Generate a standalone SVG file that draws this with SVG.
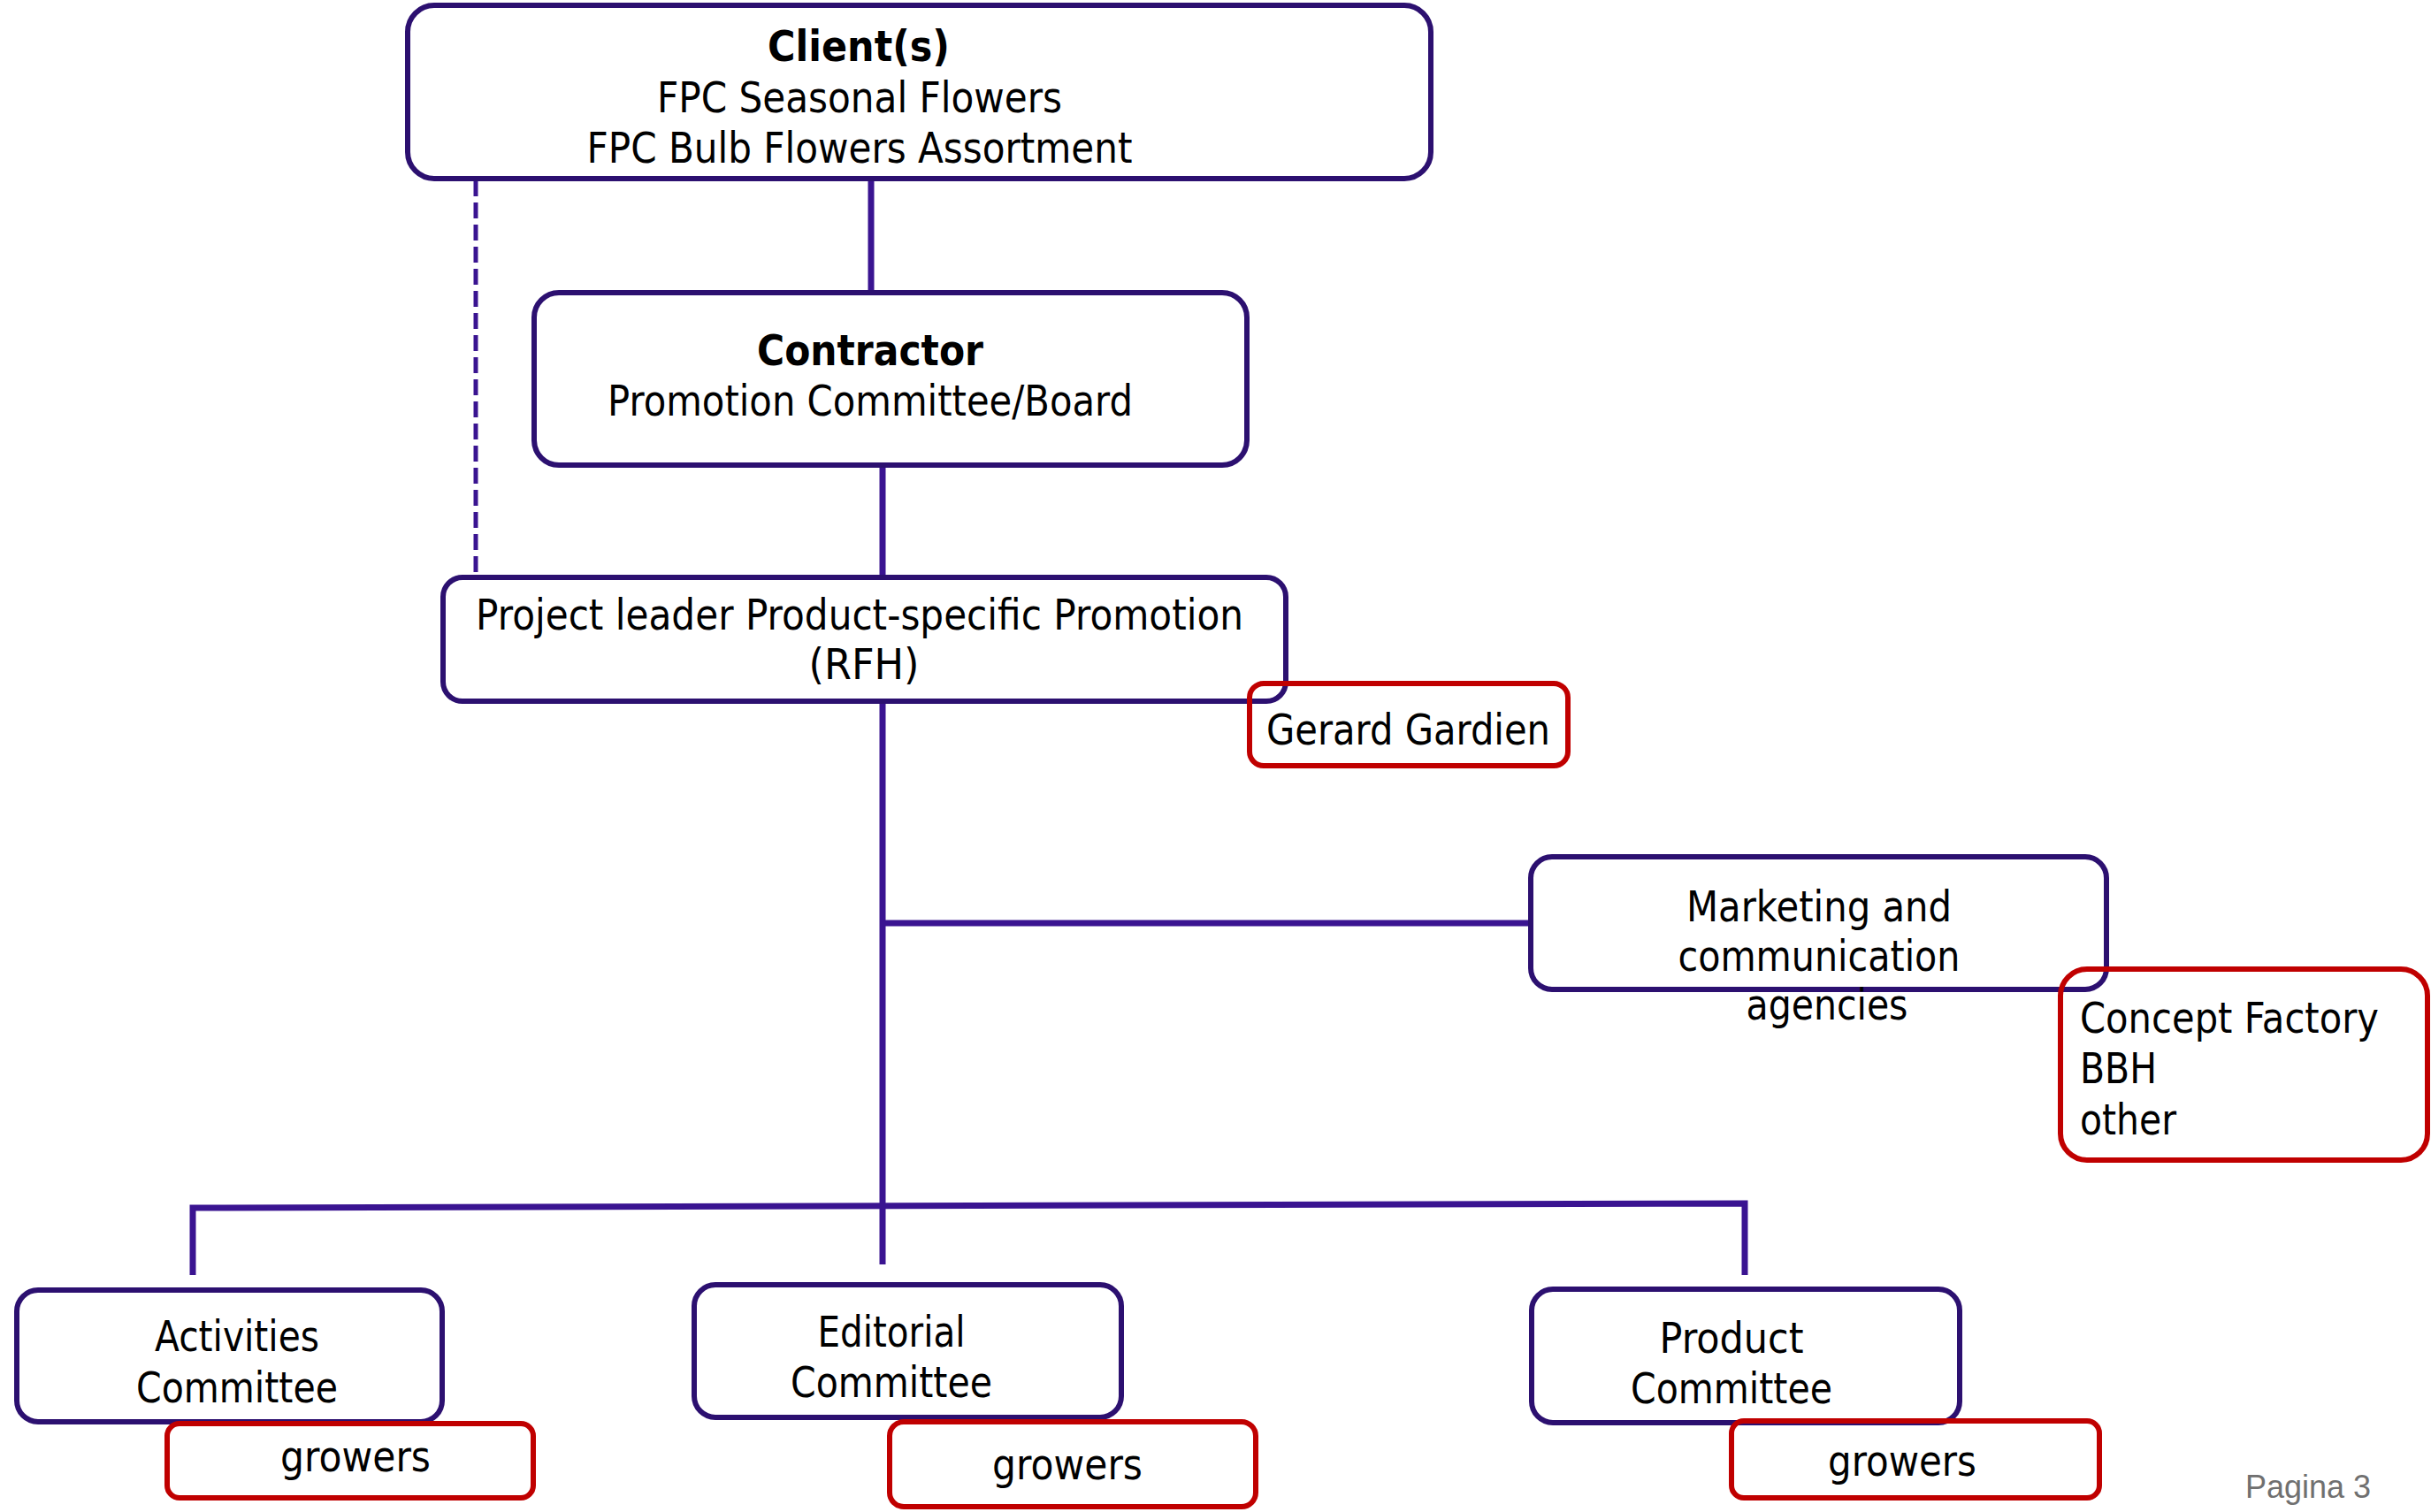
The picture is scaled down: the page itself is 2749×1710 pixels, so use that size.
<svg xmlns="http://www.w3.org/2000/svg" width="2749" height="1710" viewBox="0 0 2749 1710">
<style>
.box{fill:#ffffff;stroke:#2C1070;stroke-width:6}
.rbox{fill:none;stroke:#C00000;stroke-width:6}
.ln{fill:none;stroke:#3A1491;stroke-width:7}
.dash{fill:none;stroke:#3A1491;stroke-width:5;stroke-dasharray:18 7}
text{font-family:"DejaVu Sans","Liberation Sans",sans-serif;font-size:48px;fill:#000000}
.c{text-anchor:middle}
.b{font-weight:bold}
.pg{font-family:"Liberation Sans",Arial,sans-serif;font-size:36px;fill:#707070}
</style>
<rect width="2749" height="1710" fill="#ffffff"/>
<g id="connectors">
<path class="ln" d="M985,202 V331"/>
<path class="dash" d="M538,204 V653"/>
<path class="ln" d="M998,526 V653"/>
<path class="ln" d="M998,793 V1430"/>
<path class="ln" d="M998,1044 H1731"/>
<path class="ln" d="M218,1442 V1366 L1973,1361 V1442"/>
</g>
<g id="client">
<rect class="box" x="461" y="6" width="1157" height="196" rx="30"/>
<text class="c b" x="971" y="69" textLength="206" lengthAdjust="spacingAndGlyphs">Client(s)</text>
<text class="c" x="972" y="127" textLength="458" lengthAdjust="spacingAndGlyphs">FPC Seasonal Flowers</text>
<text class="c" x="972" y="184" textLength="617" lengthAdjust="spacingAndGlyphs">FPC Bulb Flowers Assortment</text>
</g>
<g id="contractor">
<rect class="box" x="604" y="331" width="806" height="195" rx="28"/>
<text class="c b" x="984" y="413" textLength="256" lengthAdjust="spacingAndGlyphs">Contractor</text>
<text class="c" x="984" y="470" textLength="594" lengthAdjust="spacingAndGlyphs">Promotion Committee/Board</text>
</g>
<g id="project-leader">
<rect class="box" x="501" y="653" width="953" height="140" rx="22"/>
<text class="c" x="972" y="712" textLength="868" lengthAdjust="spacingAndGlyphs">Project leader Product-specific Promotion</text>
<text class="c" x="977" y="768" textLength="125" lengthAdjust="spacingAndGlyphs">(RFH)</text>
</g>
<g id="gerard-gardien">
<rect class="rbox" x="1413" y="773" width="360" height="93" rx="16"/>
<text x="1432" y="842" textLength="321" lengthAdjust="spacingAndGlyphs">Gerard Gardien</text>
</g>
<g id="marketing">
<rect class="box" x="1731" y="969" width="651" height="150" rx="24"/>
<text class="c" x="2057" y="1042" textLength="300" lengthAdjust="spacingAndGlyphs">Marketing and</text>
<text class="c" x="2057" y="1098" textLength="319" lengthAdjust="spacingAndGlyphs">communication</text>
<text class="c" x="2066" y="1153" textLength="183" lengthAdjust="spacingAndGlyphs">agencies</text>
</g>
<g id="concept-factory">
<rect class="rbox" x="2330" y="1096" width="415" height="216" rx="30"/>
<text x="2352" y="1168" textLength="338" lengthAdjust="spacingAndGlyphs">Concept Factory</text>
<text x="2352" y="1225" textLength="87" lengthAdjust="spacingAndGlyphs">BBH</text>
<text x="2352" y="1283" textLength="109" lengthAdjust="spacingAndGlyphs">other</text>
</g>
<g id="activities">
<rect class="box" x="19" y="1459" width="481" height="149" rx="24"/>
<text class="c" x="268" y="1528" textLength="186" lengthAdjust="spacingAndGlyphs">Activities</text>
<text class="c" x="268" y="1586" textLength="228" lengthAdjust="spacingAndGlyphs">Committee</text>
</g>
<g id="growers-activities">
<rect class="rbox" x="189" y="1610" width="414" height="84" rx="14"/>
<text class="c" x="402" y="1664" textLength="170" lengthAdjust="spacingAndGlyphs">growers</text>
</g>
<g id="editorial">
<rect class="box" x="785" y="1453" width="483" height="150" rx="24"/>
<text class="c" x="1008" y="1523" textLength="167" lengthAdjust="spacingAndGlyphs">Editorial</text>
<text class="c" x="1008" y="1580" textLength="228" lengthAdjust="spacingAndGlyphs">Committee</text>
</g>
<g id="growers-editorial">
<rect class="rbox" x="1006" y="1608" width="414" height="96" rx="16"/>
<text class="c" x="1207" y="1673" textLength="170" lengthAdjust="spacingAndGlyphs">growers</text>
</g>
<g id="product">
<rect class="box" x="1732" y="1458" width="484" height="151" rx="24"/>
<text class="c" x="1958" y="1530" textLength="163" lengthAdjust="spacingAndGlyphs">Product</text>
<text class="c" x="1958" y="1587" textLength="228" lengthAdjust="spacingAndGlyphs">Committee</text>
</g>
<g id="growers-product">
<rect class="rbox" x="1958" y="1607" width="416" height="87" rx="14"/>
<text class="c" x="2151" y="1669" textLength="168" lengthAdjust="spacingAndGlyphs">growers</text>
</g>
<text class="pg" x="2539" y="1694">Pagina 3</text>
</svg>
